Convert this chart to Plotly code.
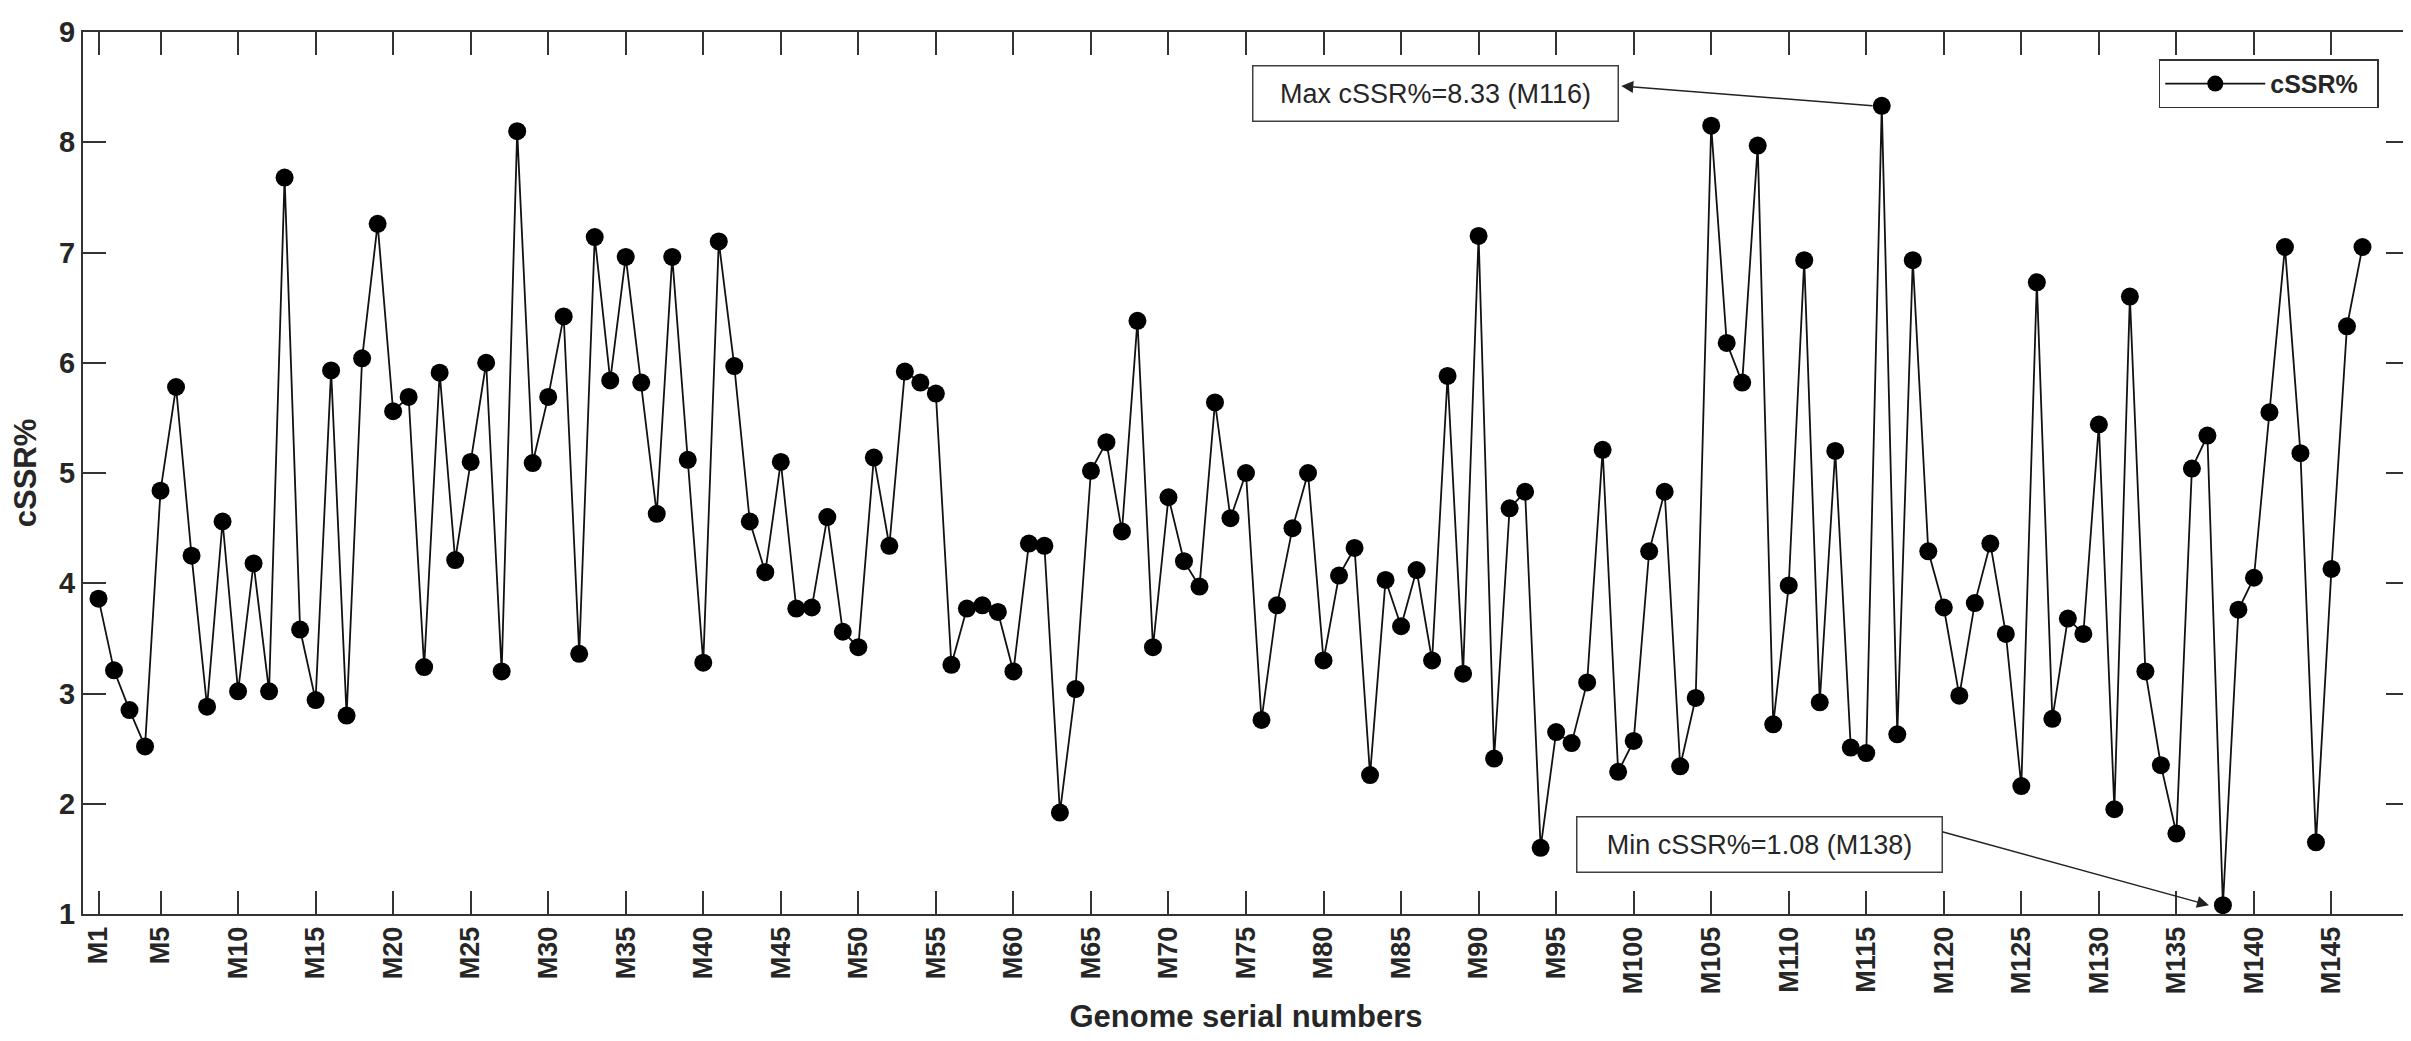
import plotly.graph_objects as go

# ---- data ----
genome_ids = list(range(1, 148))
cssr_values = [
    3.86, 3.21, 2.85, 2.52, 4.84, 5.78, 4.25, 2.88, 4.56, 3.02,
    4.18, 3.02, 7.68, 3.58, 2.94, 5.93, 2.80, 6.04, 7.26, 5.56,
    5.69, 3.24, 5.91, 4.21, 5.10, 6.00, 3.20, 8.10, 5.09, 5.69,
    6.42, 3.36, 7.14, 5.84, 6.96, 5.82, 4.63, 6.96, 5.12, 3.28,
    7.10, 5.97, 4.56, 4.10, 5.10, 3.77, 3.78, 4.60, 3.56, 3.42,
    5.14, 4.34, 5.92, 5.82, 5.72, 3.26, 3.77, 3.80, 3.74, 3.20,
    4.36, 4.34, 1.92, 3.04, 5.02, 5.28, 4.47, 6.38, 3.42, 4.78,
    4.20, 3.97, 5.64, 4.59, 5.00, 2.76, 3.80, 4.50, 5.00, 3.30,
    4.07, 4.32, 2.26, 4.03, 3.61, 4.12, 3.30, 5.88, 3.18, 7.15,
    2.41, 4.68, 4.83, 1.60, 2.65, 2.55, 3.10, 5.21, 2.29, 2.57,
    4.29, 4.83, 2.34, 2.96, 8.15, 6.18, 5.82, 7.97, 2.72, 3.98,
    6.93, 2.92, 5.20, 2.51, 2.46, 8.33, 2.63, 6.93, 4.29, 3.78,
    2.98, 3.82, 4.36, 3.54, 2.16, 6.73, 2.77, 3.68, 3.54, 5.44,
    1.95, 6.60, 3.20, 2.35, 1.73, 5.04, 5.34, 1.08, 3.76, 4.05,
    5.55, 7.05, 5.18, 1.65, 4.13, 6.33, 7.05,
]
tick_ids = [1] + list(range(5, 146, 5))
tick_labels = [f"M{i}" for i in tick_ids]
y_ticks = list(range(1, 10))

max_val = max(cssr_values)
max_id = genome_ids[cssr_values.index(max_val)]
min_val = min(cssr_values)
min_id = genome_ids[cssr_values.index(min_val)]

FONT = "Liberation Sans, Arial, sans-serif"
TXT = "#262626"

fig = go.Figure()
fig.add_trace(go.Scatter(
    x=genome_ids, y=cssr_values, mode="lines+markers", name="<b>cSSR%</b>  ",
    line=dict(color="#111111", width=1.8),
    marker=dict(color="black", size=18),
))

axis_common = dict(
    showgrid=False, zeroline=False, showline=True, linecolor="#333333",
    linewidth=2, mirror="ticks", ticks="inside", ticklen=23, tickwidth=1.5,
    tickcolor="#333333",
)

fig.update_layout(
    width=2411, height=1041,
    margin=dict(l=75, r=8, t=16, b=135),
    paper_bgcolor="white", plot_bgcolor="white",
    font=dict(family=FONT, color=TXT),
    xaxis=dict(
        range=[0, 150], tickvals=tick_ids, ticktext=tick_labels,
        tickangle=-90, tickfont=dict(size=27, family=FONT, color=TXT, weight="bold"),
        title=dict(text="<b>Genome serial numbers</b>", font=dict(size=31, color=TXT), standoff=12),
        **axis_common,
    ),
    yaxis=dict(
        range=[1, 9], tickvals=y_ticks,
        tickfont=dict(size=29, family=FONT, color=TXT, weight="bold"),
        title=dict(text="<b>cSSR%</b>", font=dict(size=31, color=TXT), standoff=14),
        **axis_common,
    ),
    legend=dict(
        x=0.987, y=0.969, xanchor="right", yanchor="top",
        bordercolor="#333333", borderwidth=1.5, bgcolor="white",
        font=dict(size=25, color=TXT), itemwidth=100,
    ),
    showlegend=True,
)

# Max annotation box and arrow (arrow pointing from the max point to the box)
fig.add_annotation(
    x=87.2, y=8.44, xref="x", yref="y", showarrow=False,
    text=f"Max cSSR%={max_val:.2f} (M{max_id})",
    font=dict(size=27, color=TXT, family=FONT),
    bordercolor="#404040", borderwidth=1.5, bgcolor="white",
    width=362, height=52,
)
fig.add_annotation(
    x=99.2, y=8.51, xref="x", yref="y",
    ax=max_id - 0.5, ay=max_val, axref="x", ayref="y",
    text="", showarrow=True, arrowhead=2, arrowsize=1.6, arrowwidth=1.5,
    arrowcolor="#222222",
)

# Min annotation box and arrow (arrow pointing from the box to the min point)
fig.add_annotation(
    x=108.1, y=1.63, xref="x", yref="y", showarrow=False,
    text=f"Min cSSR%={min_val:.2f} (M{min_id})",
    font=dict(size=27, color=TXT, family=FONT),
    bordercolor="#404040", borderwidth=1.5, bgcolor="white",
    width=362, height=52,
)
fig.add_annotation(
    x=min_id - 0.9, y=min_val, xref="x", yref="y",
    ax=119.8, ay=1.75, axref="x", ayref="y",
    text="", showarrow=True, arrowhead=2, arrowsize=1.6, arrowwidth=1.5,
    arrowcolor="#222222",
)

fig.write_html("out.html")
